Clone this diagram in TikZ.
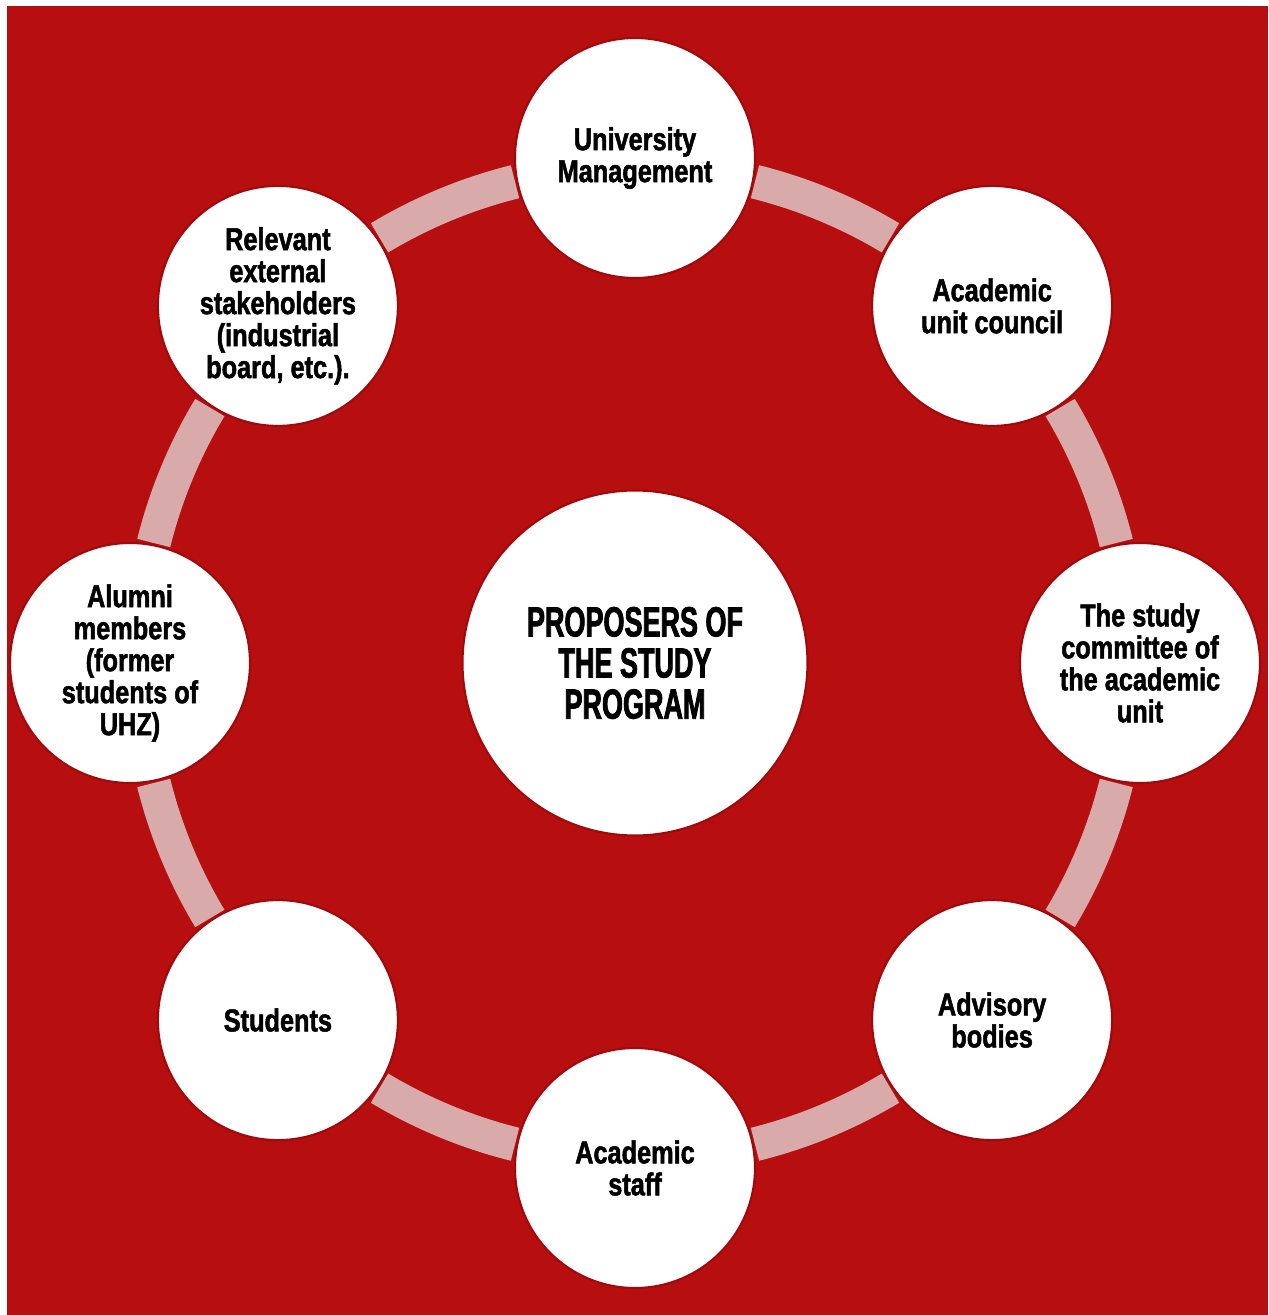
\documentclass[tikz,border=0pt]{standalone}
\usepackage{fontspec}
\newfontfamily\bubblefont[FakeStretch=0.8,FakeBold=1.6]{Liberation Sans}
\newfontfamily\hubfont[FakeStretch=0.64,FakeBold=1.8]{Liberation Sans}
\usetikzlibrary{positioning}
\definecolor{uhzred}{RGB}{183,14,16}
\definecolor{rimred}{RGB}{160,10,12}
\definecolor{bandpink}{RGB}{216,170,170}

\begin{document}
\begin{tikzpicture}[
    bubble/.style={circle, fill=white, draw=rimred, line width=1.2pt, minimum size=4.8cm, inner sep=0pt, align=center,
      font=\bubblefont\bfseries\fontsize{18}{18.2}\selectfont},
    hub/.style={circle, fill=white, draw=rimred, line width=1.2pt, minimum size=6.9cm, inner sep=0pt, align=center,
      font=\hubfont\bfseries\fontsize{24}{23.4}\selectfont},
    band/.style={draw=bandpink, line width=0.68cm}
  ]
  \useasboundingbox (-12.7,-13.04) rectangle (12.66,13.26);
  \fill[uhzred] (-12.56,-13.04) rectangle (12.66,13.14);

  % ring segments between the circles
  \foreach \a in {0,45,...,315}
    \draw[band] (\a+14:9.92) arc (\a+14:\a+31:9.92);

  % centre
  \node[hub] (proposers) at (0,0) {PROPOSERS OF\\THE STUDY\\PROGRAM};

  % proposers round the ring
  \node[bubble] (univ) at (90:10.1) {University\\Management};
  \node[bubble] (council) at (45:10.1) {Academic\\unit council};
  \node[bubble] (committee) at (0:10.1) {The study\\committee of\\the academic\\unit};
  \node[bubble] (advisory) at (-45:10.1) {Advisory\\bodies};
  \node[bubble] (staff) at (-90:10.1) {Academic\\staff};
  \node[bubble] (students) at (-135:10.1) {Students};
  \node[bubble] (alumni) at (180:10.1) {Alumni\\members\\(former\\students of\\UHZ)};
  \node[bubble] (external) at (135:10.1) {Relevant\\external\\stakeholders\\(industrial\\board, etc.).};
\end{tikzpicture}
\end{document}
